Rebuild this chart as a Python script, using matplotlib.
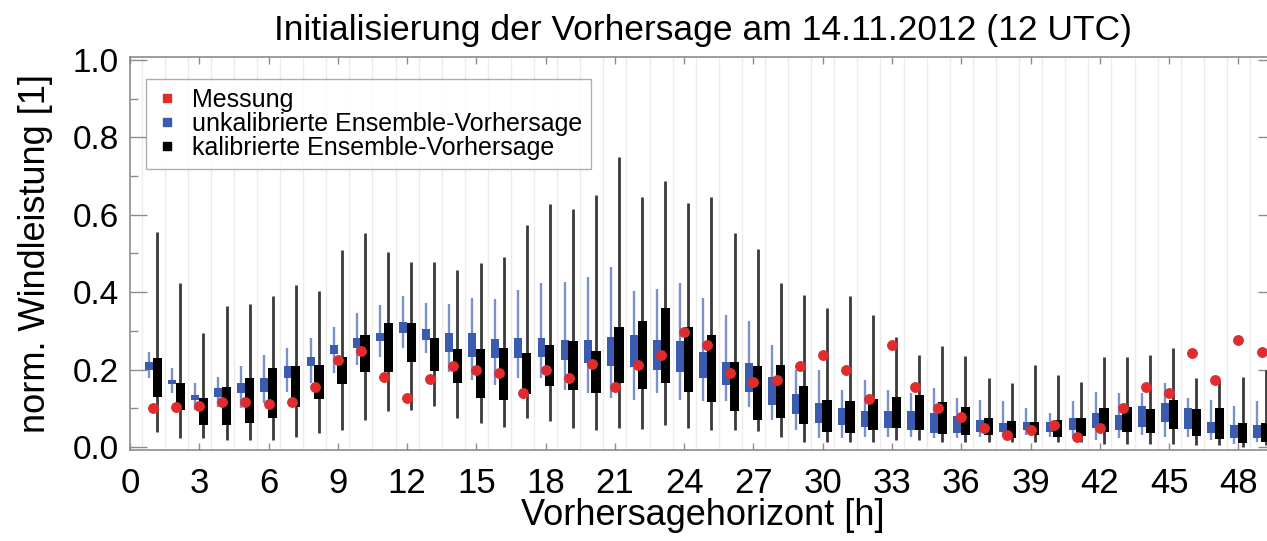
import matplotlib
matplotlib.use("Agg")
import matplotlib.pyplot as plt
from matplotlib.lines import Line2D
from matplotlib.ticker import MultipleLocator, FixedLocator
import numpy as np

plt.rcParams['font.family'] = ['Liberation Sans', 'DejaVu Sans']

# Forecast horizon in hours
hours = list(range(1, 50))

# Uncalibrated ensemble forecast: whisker min, lower quartile, upper quartile, whisker max
unkal_min = [0.177, 0.139, 0.096, 0.104, 0.100, 0.113, 0.143, 0.165, 0.190, 0.212,
             0.233, 0.255, 0.242, 0.195, 0.173, 0.160, 0.177, 0.177, 0.147, 0.139,
             0.126, 0.121, 0.139, 0.121, 0.118, 0.118, 0.104, 0.070, 0.044, 0.022,
             0.022, 0.027, 0.027, 0.027, 0.022, 0.022, 0.027, 0.027, 0.031, 0.027,
             0.027, 0.018, 0.022, 0.031, 0.027, 0.027, 0.018, 0.009, 0.013]
unkal_q1 = [0.199, 0.163, 0.121, 0.130, 0.139, 0.143, 0.177, 0.208, 0.240, 0.257,
            0.274, 0.294, 0.276, 0.246, 0.232, 0.229, 0.229, 0.233, 0.224, 0.216,
            0.208, 0.206, 0.200, 0.195, 0.177, 0.160, 0.143, 0.109, 0.085, 0.061,
            0.057, 0.052, 0.048, 0.045, 0.035, 0.035, 0.039, 0.039, 0.044, 0.039,
            0.044, 0.048, 0.044, 0.052, 0.065, 0.046, 0.035, 0.022, 0.022]
unkal_q3 = [0.220, 0.173, 0.134, 0.152, 0.165, 0.177, 0.208, 0.233, 0.264, 0.281,
            0.295, 0.324, 0.304, 0.295, 0.294, 0.278, 0.281, 0.281, 0.276, 0.276,
            0.285, 0.289, 0.276, 0.274, 0.246, 0.220, 0.216, 0.182, 0.137, 0.113,
            0.100, 0.094, 0.094, 0.094, 0.087, 0.080, 0.070, 0.061, 0.065, 0.065,
            0.074, 0.087, 0.083, 0.106, 0.113, 0.100, 0.065, 0.057, 0.057]
unkal_max = [0.246, 0.203, 0.165, 0.182, 0.208, 0.238, 0.255, 0.281, 0.311, 0.345,
             0.367, 0.390, 0.373, 0.370, 0.384, 0.382, 0.406, 0.423, 0.427, 0.440,
             0.466, 0.404, 0.407, 0.423, 0.384, 0.341, 0.326, 0.264, 0.198, 0.200,
             0.147, 0.173, 0.147, 0.139, 0.152, 0.126, 0.121, 0.118, 0.100, 0.087,
             0.118, 0.143, 0.139, 0.139, 0.165, 0.126, 0.121, 0.106, 0.120]

# Calibrated ensemble forecast: whisker min, lower quartile, upper quartile, whisker max
kal_min = [0.040, 0.022, 0.022, 0.018, 0.018, 0.018, 0.027, 0.035, 0.044, 0.070,
           0.094, 0.096, 0.106, 0.074, 0.061, 0.052, 0.074, 0.068, 0.048, 0.044,
           0.048, 0.046, 0.057, 0.048, 0.044, 0.044, 0.042, 0.027, 0.014, 0.014,
           0.014, 0.014, 0.018, 0.018, 0.014, 0.014, 0.014, 0.014, 0.014, 0.014,
           0.014, 0.009, 0.009, 0.009, 0.009, 0.005, 0.005, 0.000, 0.005]
kal_q1 = [0.130, 0.096, 0.057, 0.057, 0.061, 0.074, 0.104, 0.123, 0.162, 0.195,
          0.195, 0.220, 0.197, 0.165, 0.127, 0.121, 0.137, 0.158, 0.147, 0.139,
          0.166, 0.149, 0.166, 0.143, 0.116, 0.094, 0.071, 0.074, 0.059, 0.040,
          0.035, 0.044, 0.048, 0.044, 0.033, 0.031, 0.031, 0.022, 0.031, 0.027,
          0.029, 0.040, 0.040, 0.037, 0.046, 0.029, 0.020, 0.011, 0.013]
kal_q3 = [0.229, 0.165, 0.127, 0.154, 0.179, 0.203, 0.209, 0.212, 0.232, 0.289,
          0.320, 0.321, 0.281, 0.252, 0.252, 0.255, 0.242, 0.264, 0.275, 0.249,
          0.309, 0.326, 0.358, 0.309, 0.289, 0.220, 0.208, 0.212, 0.158, 0.121,
          0.118, 0.123, 0.130, 0.134, 0.116, 0.104, 0.074, 0.068, 0.065, 0.071,
          0.074, 0.100, 0.104, 0.098, 0.121, 0.098, 0.100, 0.061, 0.061]
kal_max = [0.556, 0.423, 0.295, 0.363, 0.370, 0.390, 0.419, 0.404, 0.509, 0.554,
           0.505, 0.479, 0.479, 0.457, 0.476, 0.490, 0.574, 0.628, 0.614, 0.651,
           0.750, 0.647, 0.686, 0.631, 0.645, 0.554, 0.511, 0.423, 0.392, 0.358,
           0.390, 0.341, 0.285, 0.238, 0.260, 0.235, 0.177, 0.166, 0.211, 0.186,
           0.168, 0.233, 0.233, 0.238, 0.255, 0.177, 0.173, 0.182, 0.200]

# Measured normalised wind power
messung = [0.100, 0.104, 0.106, 0.115, 0.115, 0.110, 0.117, 0.154, 0.225, 0.249,
           0.182, 0.127, 0.175, 0.208, 0.200, 0.190, 0.139, 0.200, 0.177, 0.214,
           0.154, 0.211, 0.238, 0.298, 0.264, 0.190, 0.169, 0.173, 0.209, 0.238,
           0.198, 0.123, 0.264, 0.156, 0.100, 0.078, 0.048, 0.031, 0.044, 0.057,
           0.025, 0.048, 0.102, 0.154, 0.139, 0.242, 0.173, 0.276, 0.246]

xticks = list(range(0, 49, 3))
yticks = [0.0, 0.2, 0.4, 0.6, 0.8, 1.0]

BLUE = '#3b5cae'
BLUE_WHISK = '#7b91cf'
BLACK = '#000000'
BLACK_WHISK = '#3a3a3a'
RED = '#e32b2b'
AXIS_GREY = '#8c8c8c'

fig = plt.figure(figsize=(12.67, 5.41), dpi=100)
ax = fig.add_axes([0.1026, 0.168, 0.904, 0.727])

h = np.array(hours, dtype=float)
xb = h - 0.18
xk = h + 0.18

# whiskers
ax.vlines(xb, unkal_min, unkal_max, colors=BLUE_WHISK, linewidth=1.7, zorder=2)
ax.vlines(xk, kal_min, kal_max, colors=BLACK_WHISK, linewidth=2.0, zorder=2)

# interquartile boxes
ax.bar(xb, np.array(unkal_q3) - np.array(unkal_q1), bottom=unkal_q1, width=0.34,
       color=BLUE, linewidth=0, zorder=3)
ax.bar(xk, np.array(kal_q3) - np.array(kal_q1), bottom=kal_q1, width=0.40,
       color=BLACK, linewidth=0, zorder=4)

# measurements
ax.plot(h, messung, linestyle='none', marker='o', markersize=7,
        color=RED, markeredgecolor='#d83030', markeredgewidth=0.8, zorder=5)

ax.set_xlim(0, 49.6)
ax.set_ylim(-0.008, 1.008)

ax.xaxis.set_major_locator(FixedLocator(xticks))
ax.xaxis.set_minor_locator(FixedLocator(list(np.arange(0.5, 49.5, 1.0))))
ax.yaxis.set_major_locator(FixedLocator(yticks))
ax.yaxis.set_minor_locator(MultipleLocator(0.1))
ax.set_xticklabels([str(t) for t in xticks])
ax.set_yticklabels([f'{t:.1f}' for t in yticks])

ax.grid(which='minor', axis='x', color='#ececec', linewidth=1.0, zorder=0)
ax.set_axisbelow(True)

ax.tick_params(axis='x', which='major', direction='in', length=5, width=1,
               color=AXIS_GREY, top=True, bottom=True, labelsize=25, pad=12)
ax.tick_params(axis='x', which='minor', length=0)
ax.tick_params(axis='y', which='major', direction='in', length=12, width=1,
               color=AXIS_GREY, left=True, right=True, labelsize=24, pad=8)
ax.tick_params(axis='y', which='minor', direction='in', length=6, width=1,
               color=AXIS_GREY, left=True, right=True)

for s in ax.spines.values():
    s.set_color(AXIS_GREY)
    s.set_linewidth(1.2)

ax.set_title('Initialisierung der Vorhersage am 14.11.2012 (12 UTC)', fontsize=25.5, pad=12)
ax.set_xlabel('Vorhersagehorizont [h]', fontsize=26, labelpad=-1)
ax.set_ylabel('norm. Windleistung [1]', fontsize=26, labelpad=14)

handles = [
    Line2D([], [], linestyle='none', marker='s', markersize=6, color=RED),
    Line2D([], [], linestyle='none', marker='s', markersize=6, color=BLUE),
    Line2D([], [], linestyle='none', marker='s', markersize=6, color=BLACK),
]
labels = ['Messung', 'unkalibrierte Ensemble-Vorhersage', 'kalibrierte Ensemble-Vorhersage']
leg = ax.legend(handles, labels, loc='upper left', bbox_to_anchor=(0.014, 0.943),
                fontsize=18, frameon=True, fancybox=False, edgecolor='#9a9a9a',
                handlelength=1.0, handletextpad=0.5, labelspacing=0.0,
                borderpad=0.35, borderaxespad=0)
leg.get_frame().set_linewidth(1.0)

fig.savefig('out.png', dpi=100)
